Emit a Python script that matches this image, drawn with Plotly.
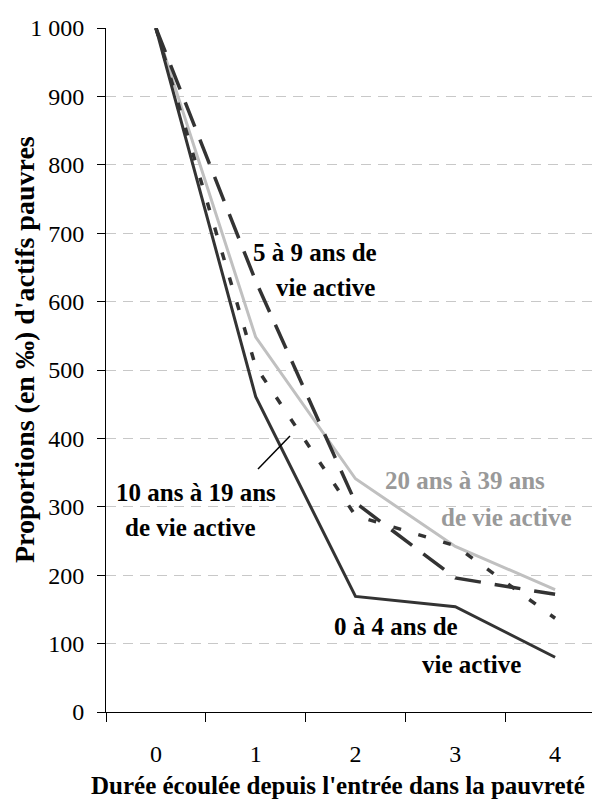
import plotly.graph_objects as go

# ---- data ----
durations = ["0", "1", "2", "3", "4"]
series_names = ["20 ans à 39 ans de vie active", "10 ans à 19 ans de vie active",
                "5 à 9 ans de vie active", "0 à 4 ans de vie active"]
vals_20_39 = [1000, 548, 341, 242, 179]
vals_10_19 = [1000, 505, 287, 243, 137]
vals_5_9 = [1000, 630, 306, 196, 172]
vals_0_4 = [1000, 461, 169, 154, 80]
y_tickvals = [0, 100, 200, 300, 400, 500, 600, 700, 800, 900, 1000]
y_ticktext = ["0", "100", "200", "300", "400", "500", "600", "700", "800", "900", "1 000"]

x_title = "Durée écoulée depuis l'entrée dans la pauvreté"
y_title = "Proportions (en ‰) d'actifs pauvres"

FONT = '"Liberation Serif", "Times New Roman", Times, "DejaVu Serif", serif'
OFF = 8  # page body margin
W, H = 600 - OFF, 799 - OFF
L, R, T, B = 106 - OFF, 0, 28 - OFF, 87
PW, PH = W - L - R, H - T - B


def px(x):
    return (x - OFF - L) / PW


def py(y):
    return (H - B - (y - OFF)) / PH


fig = go.Figure()
styles = [
    (vals_20_39, series_names[0], dict(color="#c0c0c0", width=3, dash="solid")),
    (vals_10_19, series_names[1], dict(color="#333333", width=3.5, dash="8px,18px")),
    (vals_5_9, series_names[2], dict(color="#333333", width=3.5, dash="26px,14px")),
    (vals_0_4, series_names[3], dict(color="#333333", width=3, dash="solid")),
]
for vals, name, line in styles:
    fig.add_trace(go.Scatter(x=durations, y=vals, mode="lines", name=name, line=line,
                             hoverinfo="skip"))

labels = [
    ("5 à 9 ans de", 315, 252, "#000000"),
    ("vie active", 325, 287, "#000000"),
    ("10 ans à 19 ans", 196, 492, "#000000"),
    ("de vie active", 190, 527, "#000000"),
    ("20 ans à 39 ans", 465, 480, "#999999"),
    ("de vie active", 506, 517, "#999999"),
    ("0 à 4 ans de", 396, 626, "#000000"),
    ("vie active", 471, 664, "#000000"),
]
annotations = []
for text, x, y, col in labels:
    annotations.append(dict(text=text, x=px(x), y=py(y), xref="paper", yref="paper",
                            xanchor="center", yanchor="middle", showarrow=False,
                            font=dict(family=FONT, size=25, color=col, weight="bold")))
annotations.append(dict(text=x_title, x=px(338), y=py(785), xref="paper", yref="paper",
                        xanchor="center", yanchor="middle", showarrow=False,
                        font=dict(family=FONT, size=25, color="#000000", weight="bold")))
annotations.append(dict(text=y_title, x=px(25), y=py(350), xref="paper", yref="paper",
                        xanchor="center", yanchor="middle", showarrow=False, textangle=-90,
                        font=dict(family=FONT, size=28, color="#000000", weight="bold")))

fig.add_shape(type="line", xref="paper", yref="paper", x0=px(258), y0=py(469),
              x1=px(290), y1=py(436), line=dict(color="#000000", width=1.5))

fig.update_layout(
    width=W, height=H,
    margin=dict(l=L, r=R, t=T, b=B, pad=0),
    paper_bgcolor="white", plot_bgcolor="white",
    showlegend=False,
    annotations=annotations,
    font=dict(family=FONT, size=24, color="#000000"),
)
fig.update_xaxes(
    type="category", range=[-0.5, 4.45], tickson="boundaries",
    showline=True, linecolor="#000000", linewidth=1,
    ticks="outside", ticklen=9, tickcolor="#000000", tickwidth=1,
    showgrid=False, zeroline=False,
    tickfont=dict(family=FONT, size=24, color="#000000"),
    ticklabelstandoff=20,
)
fig.update_yaxes(
    range=[0, 1000], tickvals=y_tickvals, ticktext=y_ticktext,
    showline=True, linecolor="#000000", linewidth=1,
    ticks="outside", ticklen=8, tickcolor="#000000", tickwidth=1,
    showgrid=True, gridcolor="#c8c8c8", gridwidth=1, griddash="10px,7px",
    zeroline=False,
    tickfont=dict(family=FONT, size=24, color="#000000"),
    ticklabelstandoff=8,
)

fig.write_html("out.html")
